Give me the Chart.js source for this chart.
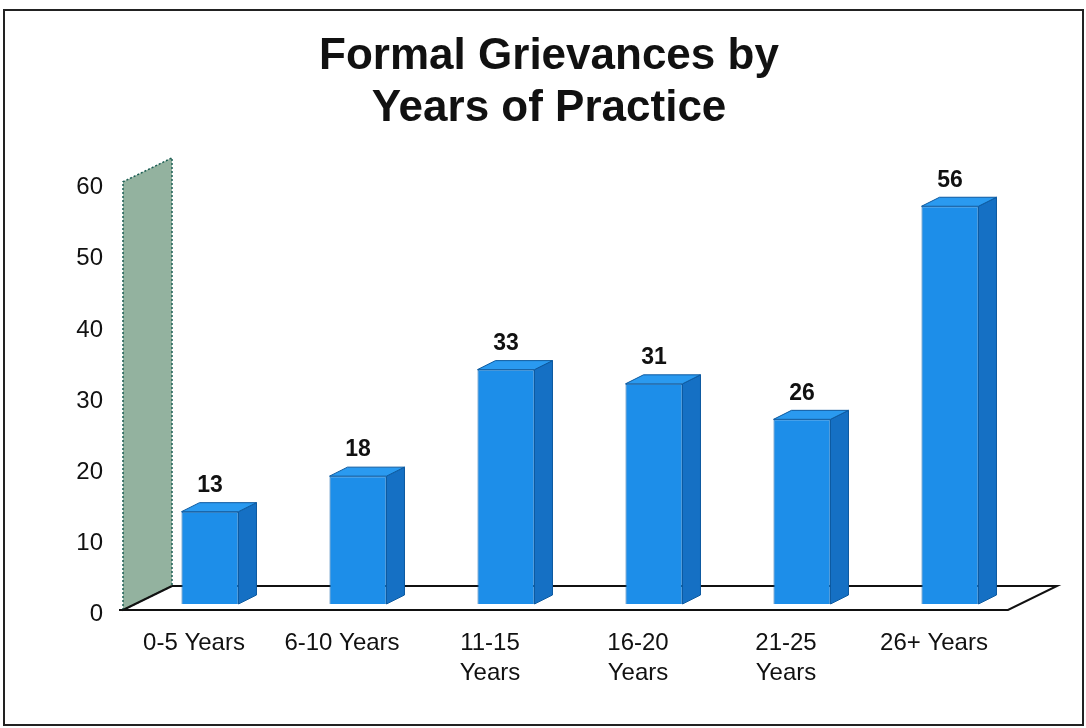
<!DOCTYPE html>
<html>
<head>
<meta charset="utf-8">
<title>Formal Grievances by Years of Practice</title>
<script src="https://cdn.jsdelivr.net/npm/chart.js@4.4.0/dist/chart.umd.min.js"></script>
<style>
  body { margin: 0; background: #fff; }
  #wrap { width: 1086px; height: 728px; }
</style>
</head>
<body>
<div id="wrap"><canvas id="myChart" width="1086" height="728"></canvas></div>
<script>
// chart data
const categories = ['0-5 Years', '6-10 Years', ['11-15', 'Years'], ['16-20', 'Years'], ['21-25', 'Years'], '26+ Years'];
const grievances = [13, 18, 33, 31, 26, 56];
const yMin = 0;
const yMax = 60;
const yStep = 10;

const fontFamily = "'Liberation Sans', Arial, Helvetica, sans-serif";
const barDepth = { dx: 18, dy: -9 };   // 3d offset of the bars
const wallDepth = { dx: 49, dy: -24 }; // 3d offset of wall / floor

// draws the white page, the frame, the back wall and the floor
const backdrop = {
    id: 'backdrop',
    beforeDraw(chart) {
        const ctx = chart.ctx;
        ctx.save();
        ctx.fillStyle = '#fff';
        ctx.fillRect(0, 0, chart.width, chart.height);
        ctx.strokeStyle = '#222';
        ctx.lineWidth = 2;
        ctx.strokeRect(4, 10, chart.width - 7, chart.height - 13);
        ctx.restore();
    },
    beforeDatasetsDraw(chart) {
        const { ctx, chartArea, scales: { y } } = chart;
        const x0 = chartArea.left - 13;
        const y0 = y.getPixelForValue(yMin) + 6;
        const yTop = y.getPixelForValue(yMax) + 4;
        const xr = chartArea.right - 16;
        const { dx, dy } = wallDepth;

        ctx.save();
        // left wall
        ctx.beginPath();
        ctx.moveTo(x0, y0);
        ctx.lineTo(x0, yTop);
        ctx.lineTo(x0 + dx, yTop + dy);
        ctx.lineTo(x0 + dx, y0 + dy);
        ctx.closePath();
        ctx.fillStyle = '#93b29f';
        ctx.fill();
        ctx.setLineDash([2, 2]);
        ctx.strokeStyle = '#1d5f55';
        ctx.lineWidth = 1.5;
        ctx.stroke();
        ctx.setLineDash([]);

        // floor outline
        ctx.beginPath();
        ctx.moveTo(x0 - 4, y0);
        ctx.lineTo(xr, y0);
        ctx.lineTo(xr + dx, y0 + dy);
        ctx.lineTo(x0 + dx, y0 + dy);
        ctx.moveTo(x0, y0);
        ctx.lineTo(x0 + dx, y0 + dy);
        ctx.strokeStyle = '#111';
        ctx.lineWidth = 2;
        ctx.stroke();
        ctx.restore();
    },
    afterDatasetsDraw(chart) {
        const ctx = chart.ctx;
        const meta = chart.getDatasetMeta(0);
        const { dx, dy } = barDepth;
        ctx.save();
        meta.data.forEach((bar, i) => {
            const l = bar.x - bar.width / 2;
            const r = bar.x + bar.width / 2;
            const top = bar.y;
            const base = bar.base;

            // side face
            ctx.beginPath();
            ctx.moveTo(r, top);
            ctx.lineTo(r + dx, top + dy);
            ctx.lineTo(r + dx, base + dy);
            ctx.lineTo(r, base);
            ctx.closePath();
            ctx.fillStyle = '#1570c4';
            ctx.fill();
            ctx.strokeStyle = '#0d5aa0';
            ctx.lineWidth = 1;
            ctx.stroke();

            // top face
            ctx.beginPath();
            ctx.moveTo(l, top);
            ctx.lineTo(l + dx, top + dy);
            ctx.lineTo(r + dx, top + dy);
            ctx.lineTo(r, top);
            ctx.closePath();
            ctx.fillStyle = '#2a9af0';
            ctx.fill();
            ctx.stroke();

            // value label
            ctx.fillStyle = '#111';
            ctx.font = 'bold 23px ' + fontFamily;
            ctx.textAlign = 'center';
            ctx.textBaseline = 'middle';
            ctx.fillText(grievances[i], bar.x, top - 26);
        });
        ctx.restore();
    }
};

const ctx = document.getElementById('myChart').getContext('2d');
const chart = new Chart(ctx, {
    type: 'bar',
    data: {
        labels: categories,
        datasets: [{
            label: 'Formal Grievances',
            data: grievances,
            backgroundColor: '#1d8ee9',
            borderColor: '#0d5fa8',
            borderWidth: 1,
            categoryPercentage: 1,
            barPercentage: 0.385,
        }],
    },
    options: {
        responsive: false,
        animation: false,
        layout: {
            padding: { top: 31, left: 74, right: 62, bottom: 24 },
        },
        scales: {
            x: {
                grid: { display: false, drawTicks: false },
                border: { display: false },
                afterFit: (scale) => { scale.height = 100; },
                ticks: {
                    color: '#111',
                    padding: 24,
                    labelOffset: -16,
                    maxRotation: 0,
                    autoSkip: false,
                    font: { family: fontFamily, size: 24, lineHeight: 1.25 },
                },
            },
            y: {
                min: yMin,
                max: yMax,
                grid: { display: false, drawTicks: false },
                border: { display: false },
                afterFit: (scale) => { scale.width = 62; },
                ticks: {
                    stepSize: yStep,
                    color: '#111',
                    padding: 33,
                    labelOffset: 10,
                    font: { family: fontFamily, size: 24 },
                },
            },
        },
        plugins: {
            legend: { display: false },
            tooltip: { enabled: false },
            title: {
                display: true,
                text: ['Formal Grievances by', 'Years of Practice'],
                color: '#111',
                padding: { top: 0, bottom: 43 },
                font: { family: fontFamily, size: 44, weight: 'bold', lineHeight: 1.18 },
            },
        },
    },
    plugins: [backdrop],
});
</script>
</body>
</html>
